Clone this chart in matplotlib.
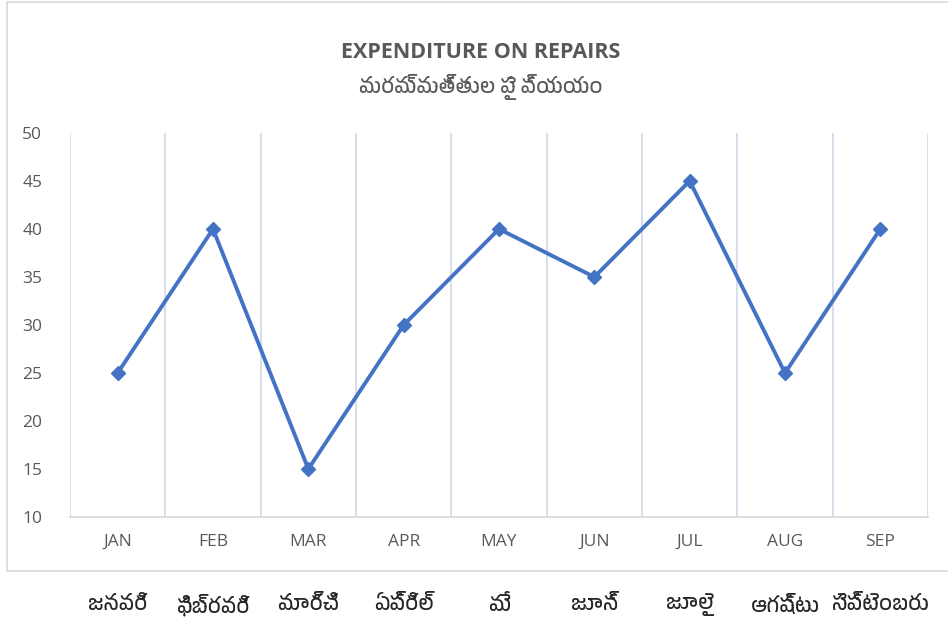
import matplotlib
matplotlib.use("Agg")
import matplotlib.pyplot as plt
import matplotlib.font_manager as fm
import matplotlib.transforms as mtransforms
from matplotlib.patches import Rectangle

months = ["JAN", "FEB", "MAR", "APR", "MAY", "JUN", "JUL", "AUG", "SEP"]
months_te = ["జనవరి", "ఫిబ్రవరి", "మార్చి", "ఏప్రిల్", "మే", "జూన్", "జూలై", "ఆగష్టు", "సెప్టెంబరు"]
values = [25, 40, 15, 30, 40, 35, 45, 25, 40]
yticks = [10, 15, 20, 25, 30, 35, 40, 45, 50]
title_en = "EXPENDITURE ON REPAIRS"
title_te = "మరమ్మత్తుల పై వ్యయం"

# find a font with Telugu glyphs, if any
te_fonts = []
for f in fm.fontManager.ttflist:
    n = f.name
    if ("Telugu" in n or n in ("Pothana2000", "Vemana2000", "Gidugu", "Gautami", "Mandali",
                               "Ramabhadra", "Suranna", "Tenali Ramakrishna", "Mallanna",
                               "NTR", "Ramaraja", "Dhurjati", "Gurajada", "Suravaram",
                               "Timmana", "Peddana", "Ponnala", "Sree Krushnadevaraya",
                               "Lakki Reddy", "Nirmala UI", "Vani", "Sitara")) and n not in te_fonts:
        te_fonts.append(n)
te_family = te_fonts + ["Noto Sans", "DejaVu Sans"]

base = ["Open Sans", "DejaVu Sans"]
plt.rcParams["font.family"] = base

W, H = 948, 623
fig = plt.figure(figsize=(W / 100, H / 100), dpi=100)
fig.patch.set_facecolor("white")

# chart border
fig.patches.append(Rectangle((7 / W, 1 - 571 / H), 1.05, 569 / H,
                             transform=fig.transFigure, fill=False,
                             edgecolor="#d9d9d9", linewidth=1.2, zorder=0))

ax = fig.add_axes([70 / W, 1 - 517 / H, (928 - 70) / W, (517 - 133) / H])
ax.set_facecolor("none")
x = list(range(len(months)))
ax.plot(x, values, color="#4472C4", linewidth=2.8, marker="D", markersize=7.5,
        markerfacecolor="#4472C4", markeredgecolor="#4472C4", zorder=3,
        solid_joinstyle="round")

ax.set_xlim(-0.5, len(months) - 0.5)
ax.set_ylim(10, 50)
ax.set_yticks(yticks)
ax.set_yticklabels([str(v) for v in yticks])
ax.set_xticks(x)
ax.set_xticklabels(months)

# vertical category separators
for b in range(len(months) + 1):
    ax.axvline(b - 0.5, color="#d6dce8", linewidth=1.3, zorder=1)

for s in ax.spines.values():
    s.set_visible(False)
ax.spines["bottom"].set_visible(True)
ax.spines["bottom"].set_color("#d9d9d9")
ax.spines["bottom"].set_linewidth(1.3)

ax.tick_params(axis="y", length=0, pad=20, labelsize=12.5, labelcolor="#595959")
ax.tick_params(axis="x", length=0, pad=12, labelsize=12.5, labelcolor="#595959")

# titles
fig.text(481 / W, 1 - 52 / H, title_en, ha="center", va="center", fontsize=15.5,
         fontweight="bold", color="#595959", family=base)
fig.text(481 / W, 1 - 87 / H, title_te, ha="center", va="center", fontsize=15,
         color="#595959", family=te_family)

# Telugu month labels below the chart box
tr = mtransforms.blended_transform_factory(ax.transData, fig.transFigure)
for i, lab in enumerate(months_te):
    ax.text(i, 1 - 605 / H, lab, transform=tr, ha="center", va="center",
            fontsize=15, color="#262626", family=te_family, clip_on=False)

fig.savefig("out.png", dpi=100, facecolor="white")
